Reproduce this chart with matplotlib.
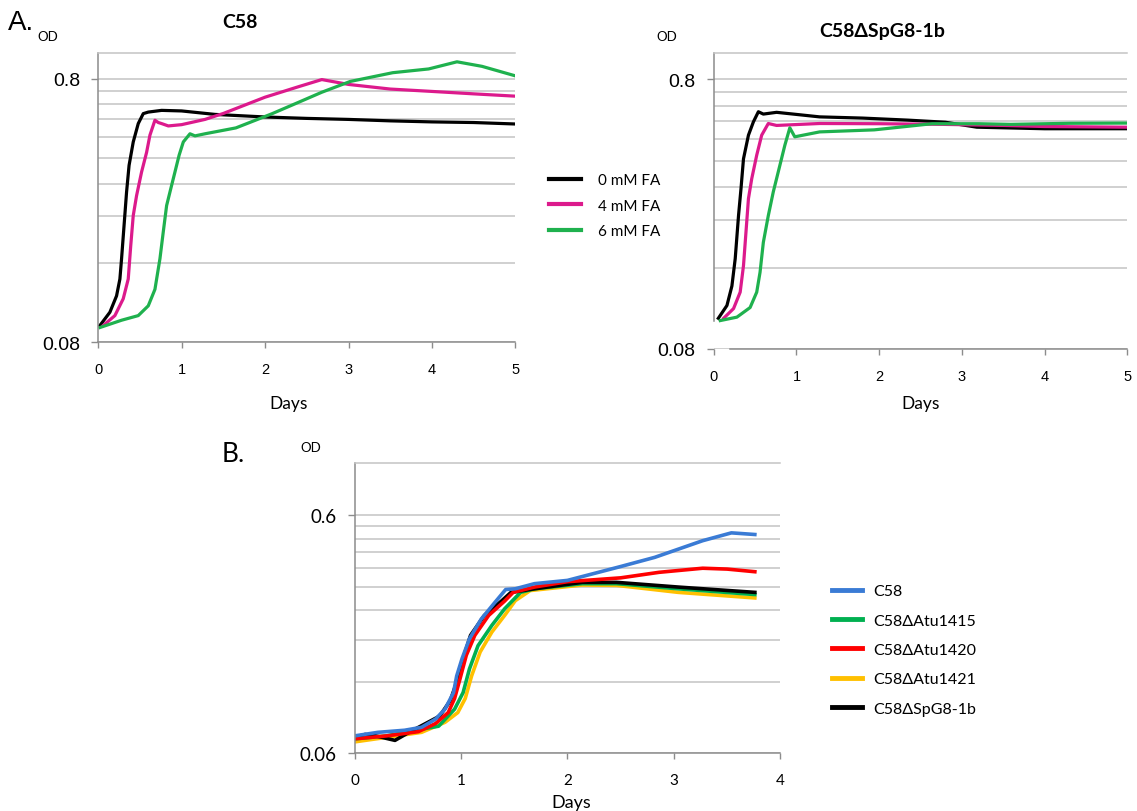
import matplotlib
matplotlib.use("Agg")

import matplotlib.pyplot as plt
from matplotlib.lines import Line2D
from matplotlib.ticker import FixedLocator, FuncFormatter, NullFormatter

# panel A, left: C58 with formic acid
fa_labels = ["0 mM FA", "4 mM FA", "6 mM FA"]
fa_colors = ["#000000", "#dc1a8c", "#1fb14e"]

c58_0_days = [0.02, 0.14, 0.22, 0.26, 0.28, 0.31, 0.34, 0.37, 0.42, 0.48, 0.54, 0.6, 0.76, 1.0, 1.4, 2.0, 2.5, 3.0, 3.5, 4.0, 4.5, 5.0]
c58_0_od = [0.0926, 0.104, 0.120, 0.139, 0.166, 0.222, 0.297, 0.375, 0.46, 0.54, 0.589, 0.597, 0.606, 0.603, 0.585, 0.572, 0.565, 0.56, 0.553, 0.548, 0.545, 0.538]
c58_4_days = [0.06, 0.2, 0.3, 0.36, 0.39, 0.42, 0.46, 0.52, 0.58, 0.62, 0.68, 0.72, 0.76, 0.84, 1.0, 1.28, 1.5, 2.0, 2.4, 2.68, 3.0, 3.5, 4.0, 4.5, 5.0]
c58_4_od = [0.0926, 0.101, 0.117, 0.139, 0.186, 0.242, 0.288, 0.354, 0.42, 0.488, 0.556, 0.545, 0.54, 0.529, 0.535, 0.56, 0.59, 0.68, 0.745, 0.793, 0.76, 0.73, 0.715, 0.70, 0.686]
c58_6_days = [0.02, 0.28, 0.48, 0.6, 0.68, 0.74, 0.78, 0.82, 0.87, 0.92, 0.97, 1.02, 1.10, 1.16, 1.28, 1.65, 2.08, 2.4, 2.68, 3.02, 3.53, 3.96, 4.3, 4.6, 5.0]
c58_6_od = [0.091, 0.097, 0.101, 0.110, 0.127, 0.166, 0.21, 0.264, 0.306, 0.354, 0.41, 0.46, 0.494, 0.485, 0.494, 0.52, 0.588, 0.65, 0.71, 0.78, 0.842, 0.87, 0.926, 0.89, 0.819]

# panel A, right: C58dSpG8-1b with formic acid
spg_0_days = [0.056, 0.16, 0.22, 0.26, 0.30, 0.33, 0.36, 0.42, 0.48, 0.54, 0.60, 0.76, 1.28, 1.8, 2.35, 2.8, 3.18, 4.0, 5.0]
spg_0_od = [0.104, 0.116, 0.137, 0.173, 0.25, 0.315, 0.406, 0.497, 0.557, 0.607, 0.595, 0.604, 0.581, 0.575, 0.565, 0.555, 0.532, 0.525, 0.525]
spg_4_days = [0.12, 0.24, 0.32, 0.36, 0.39, 0.42, 0.46, 0.52, 0.58, 0.66, 0.76, 1.28, 2.0, 2.76, 3.5, 4.0, 5.0]
spg_4_od = [0.104, 0.113, 0.130, 0.163, 0.217, 0.289, 0.343, 0.419, 0.497, 0.549, 0.54, 0.549, 0.548, 0.545, 0.54, 0.535, 0.532]
spg_6_days = [0.08, 0.28, 0.44, 0.52, 0.56, 0.60, 0.66, 0.72, 0.78, 0.86, 0.92, 0.98, 1.28, 1.94, 2.64, 3.2, 3.59, 4.3, 5.0]
spg_6_od = [0.102, 0.105, 0.114, 0.130, 0.154, 0.199, 0.25, 0.306, 0.363, 0.456, 0.529, 0.49, 0.511, 0.52, 0.548, 0.548, 0.545, 0.55, 0.551]

# panel B: strains
strain_labels = ["C58", "C58\u0394Atu1415", "C58\u0394Atu1420", "C58\u0394Atu1421", "C58\u0394SpG8-1b"]
strain_colors = ["#3a7bd5", "#00b050", "#ff0000", "#ffc000", "#000000"]

b_c58_days = [0, 0.22, 0.47, 0.63, 0.76, 0.85, 0.93, 0.96, 1.01, 1.08, 1.19, 1.32, 1.42, 1.51, 1.69, 2.0, 2.5, 2.82, 3.27, 3.54, 3.76]
b_c58_od = [0.071, 0.0735, 0.075, 0.0772, 0.0835, 0.092, 0.108, 0.127, 0.150, 0.182, 0.22, 0.259, 0.293, 0.295, 0.31, 0.32, 0.366, 0.40, 0.47, 0.507, 0.499]
b_1415_days = [0, 0.3, 0.57, 0.79, 0.94, 1.02, 1.08, 1.16, 1.29, 1.41, 1.56, 1.69, 2.14, 2.46, 3.04, 3.76]
b_1415_od = [0.069, 0.071, 0.075, 0.078, 0.092, 0.108, 0.136, 0.170, 0.207, 0.243, 0.285, 0.295, 0.31, 0.31, 0.295, 0.279]
b_1420_days = [0, 0.3, 0.6, 0.76, 0.88, 0.94, 0.99, 1.05, 1.13, 1.26, 1.41, 1.49, 1.69, 2.0, 2.5, 2.86, 3.27, 3.5, 3.76]
b_1420_od = [0.069, 0.071, 0.074, 0.080, 0.089, 0.102, 0.123, 0.155, 0.188, 0.228, 0.262, 0.285, 0.30, 0.316, 0.328, 0.346, 0.36, 0.357, 0.348]
b_1421_days = [0, 0.3, 0.63, 0.85, 0.97, 1.04, 1.10, 1.18, 1.29, 1.41, 1.51, 1.65, 2.14, 2.46, 3.04, 3.76]
b_1421_od = [0.067, 0.07, 0.0735, 0.081, 0.089, 0.102, 0.127, 0.160, 0.194, 0.228, 0.263, 0.29, 0.306, 0.305, 0.285, 0.270]
b_spg_days = [0, 0.1, 0.2, 0.38, 0.5, 0.8, 0.9, 0.97, 1.03, 1.09, 1.22, 1.38, 1.47, 1.69, 2.14, 2.46, 3.04, 3.76]
b_spg_od = [0.070, 0.072, 0.071, 0.068, 0.073, 0.086, 0.100, 0.123, 0.155, 0.188, 0.228, 0.262, 0.285, 0.295, 0.314, 0.314, 0.30, 0.285]

W, H = 1137, 812
GRID = "#c4c4c4"
SPINE = "#8c8c8c"

fig = plt.figure(figsize=(W / 100, H / 100), dpi=100)


def add_ax(left, top, right, bottom):
    return fig.add_axes([left / W, 1 - bottom / H, (right - left) / W, (bottom - top) / H])


def style(ax, ymin, xmax, tick_font, ysize, xsize):
    ax.set_yscale("log")
    ax.set_ylim(ymin, 1.0)
    ax.set_xlim(0, xmax)
    ax.set_xticks(range(xmax + 1))
    ax.yaxis.set_major_locator(FixedLocator([ymin, ymin * 10]))
    ax.yaxis.set_major_formatter(FuncFormatter(lambda v, _: f"{v:g}"))
    ax.yaxis.set_minor_locator(FixedLocator([ymin * k for k in range(2, 10)]))
    ax.yaxis.set_minor_formatter(NullFormatter())
    ax.grid(True, which="both", axis="y", color=GRID, lw=1.1)
    ax.set_axisbelow(True)
    ax.spines["right"].set_visible(False)
    ax.spines["top"].set_color(GRID)
    ax.spines["top"].set_linewidth(1.1)
    for s in ("left", "bottom"):
        ax.spines[s].set_color(SPINE)
        ax.spines[s].set_linewidth(1.1)
    ax.tick_params(axis="y", which="major", length=5, width=1, color=SPINE, pad=8,
                   labelsize=ysize, labelfontfamily=tick_font)
    ax.tick_params(axis="y", which="minor", length=0)
    ax.tick_params(axis="x", length=4, width=1, color=SPINE, pad=10.5,
                   labelsize=xsize, labelfontfamily=tick_font)


# ---- panel A left
ax1 = add_ax(98.2, 54, 515.4, 343.3)
style(ax1, 0.08, 5, "Liberation Sans", 14, 10.5)
for d, v, c in [(c58_0_days, c58_0_od, fa_colors[0]),
                (c58_4_days, c58_4_od, fa_colors[1]),
                (c58_6_days, c58_6_od, fa_colors[2])]:
    ax1.plot(d, v, color=c, lw=2.3)
ax1.text(0.457, -0.21, "Days", transform=ax1.transAxes, ha="center", va="center",
         fontsize=12.5, family="Lato")

# ---- panel A right
ax2 = add_ax(713.7, 54.3, 1127.4, 350)
style(ax2, 0.08, 5, "Liberation Sans", 14, 10.5)
ax2.spines["left"].set_bounds(0.102, 1.0)
ax2.spines["bottom"].set_bounds(0.2, 5)
for d, v, c in [(spg_0_days, spg_0_od, fa_colors[0]),
                (spg_4_days, spg_4_od, fa_colors[1]),
                (spg_6_days, spg_6_od, fa_colors[2])]:
    ax2.plot(d, v, color=c, lw=2.3)
ax2.text(0.5, -0.183, "Days", transform=ax2.transAxes, ha="center", va="center",
         fontsize=12.5, family="Lato")

# ---- panel B
ax3 = add_ax(354.5, 463.7, 780.4, 754.3)
style(ax3, 0.06, 4, "Lato", 13.5, 11)
b_series = [(b_c58_days, b_c58_od), (b_1415_days, b_1415_od), (b_1420_days, b_1420_od),
            (b_1421_days, b_1421_od), (b_spg_days, b_spg_od)]
for i in [3, 1, 4, 2, 0]:
    d, v = b_series[i]
    ax3.plot(d, v, color=strain_colors[i], lw=2.6)
ax3.text(0.51, -0.168, "Days", transform=ax3.transAxes, ha="center", va="center",
         fontsize=13, family="Lato")

# legends
fa_handles = [Line2D([], [], color=c, lw=3) for c in fa_colors]
fig.legend(fa_handles, fa_labels, loc="upper left", bbox_to_anchor=(549 / W, 1 - 174 / H),
           frameon=False, prop={"family": "Lato", "size": 11}, handlelength=2.1,
           handletextpad=1.1, labelspacing=0.76, borderpad=0, borderaxespad=0)
strain_handles = [Line2D([], [], color=c, lw=3.5) for c in strain_colors]
fig.legend(strain_handles, strain_labels, loc="upper left", bbox_to_anchor=(832 / W, 1 - 585 / H),
           frameon=False, prop={"family": "Lato", "size": 11.5}, handlelength=1.9,
           handletextpad=0.7, labelspacing=0.95, borderpad=0, borderaxespad=0)

# titles, panel letters and OD labels
fig.text(240 / W, 1 - 22 / H, "C58", fontsize=14, fontweight="bold", family="Lato",
         ha="center", va="center")
fig.text(882.5 / W, 1 - 32 / H, "C58\u0394SpG8-1b", fontsize=14, fontweight="bold",
         family="Lato", ha="center", va="center")
fig.text(8 / W, 1 - 23 / H, "A.", fontsize=20, family="Liberation Sans", va="center")
fig.text(37 / W, 1 - 37 / H, "OD", fontsize=9.5, family="Lato", va="center")
fig.text(667 / W, 1 - 37 / H, "OD", fontsize=9.5, family="Lato", va="center", ha="center")
fig.text(222 / W, 1 - 455 / H, "B.", fontsize=19, family="Lato", va="center")
fig.text(311 / W, 1 - 448 / H, "OD", fontsize=9.5, family="Lato", va="center", ha="center")

fig.savefig("out.png", dpi=100)
